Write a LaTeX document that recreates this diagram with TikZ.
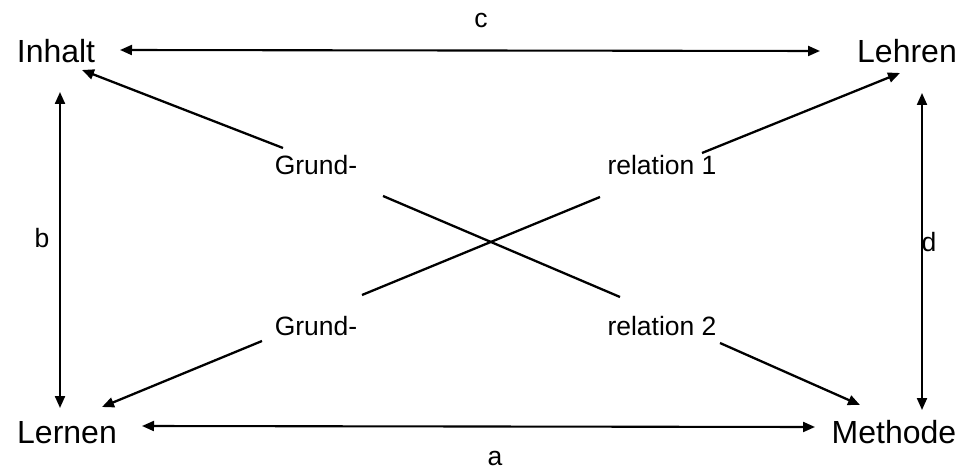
\documentclass[tikz,border=0pt]{standalone}
\usepackage{fontspec}
\setmainfont{Liberation Sans}
\usetikzlibrary{arrows.meta}
\tikzset{
  mainlbl/.style={anchor=base,inner sep=0pt,font=\fontsize{32}{38}\selectfont},
  rellbl/.style={anchor=base,inner sep=0pt,font=\fontsize{26.5}{32}\selectfont},
  conn/.style={line width=2.3pt,-{Triangle[length=12pt,width=10pt]}},
  conn2/.style={line width=2.1pt,{Triangle[length=12pt,width=10pt]}-{Triangle[length=12pt,width=10pt]}},
  plain/.style={line width=2.3pt}
}
\begin{document}
\begin{tikzpicture}[x=1pt,y=-1pt]
\useasboundingbox[fill=white] (0,0) rectangle (966,470);
% main nodes
\node[mainlbl] (inhalt) at (56,63) {Inhalt};
\node[mainlbl] (lehren) at (907,63) {Lehren};
\node[mainlbl] (lernen) at (67,443) {Lernen};
\node[mainlbl] (methode) at (894,443) {Methode};
% relation labels
\node[rellbl] (g1) at (316,175) {Grund-};
\node[rellbl] (r1) at (662,175) {relation 1};
\node[rellbl] (g2) at (316,335) {Grund-};
\node[rellbl] (r2) at (662,335) {relation 2};
% edge labels
\node[rellbl] (lc) at (481,28) {c};
\node[rellbl] (la) at (495,465) {a};
\node[rellbl] (lb) at (42,248) {b};
\node[rellbl] (ld) at (929,252) {d};
% connector end points
\coordinate (c1) at (120,50);
\coordinate (c2) at (820,51);
\coordinate (a1) at (142,426);
\coordinate (a2) at (815,427);
\coordinate (b1) at (60,92);
\coordinate (b2) at (60,408);
\coordinate (d1) at (922,93);
\coordinate (d2) at (922,410);
\coordinate (ih) at (82,70);
\coordinate (it) at (283,148);
\coordinate (lh) at (900,73);
\coordinate (lt) at (702,153);
\coordinate (nh) at (102,407);
\coordinate (nt) at (262,341);
\coordinate (mh) at (860,405);
\coordinate (mt) at (720,343);
\coordinate (x1) at (383,196);
\coordinate (x2) at (620,297);
\coordinate (x3) at (362,295);
\coordinate (x4) at (600,197);
% connectors
\draw[conn2] (c1) -- (c2);
\draw[conn2] (a1) -- (a2);
\draw[conn2] (b1) -- (b2);
\draw[conn2] (d1) -- (d2);
\draw[conn] (it) -- (ih);
\draw[conn] (lt) -- (lh);
\draw[conn] (nt) -- (nh);
\draw[conn] (mt) -- (mh);
\draw[plain] (x1) -- (x2);
\draw[plain] (x3) -- (x4);
\end{tikzpicture}
\end{document}
